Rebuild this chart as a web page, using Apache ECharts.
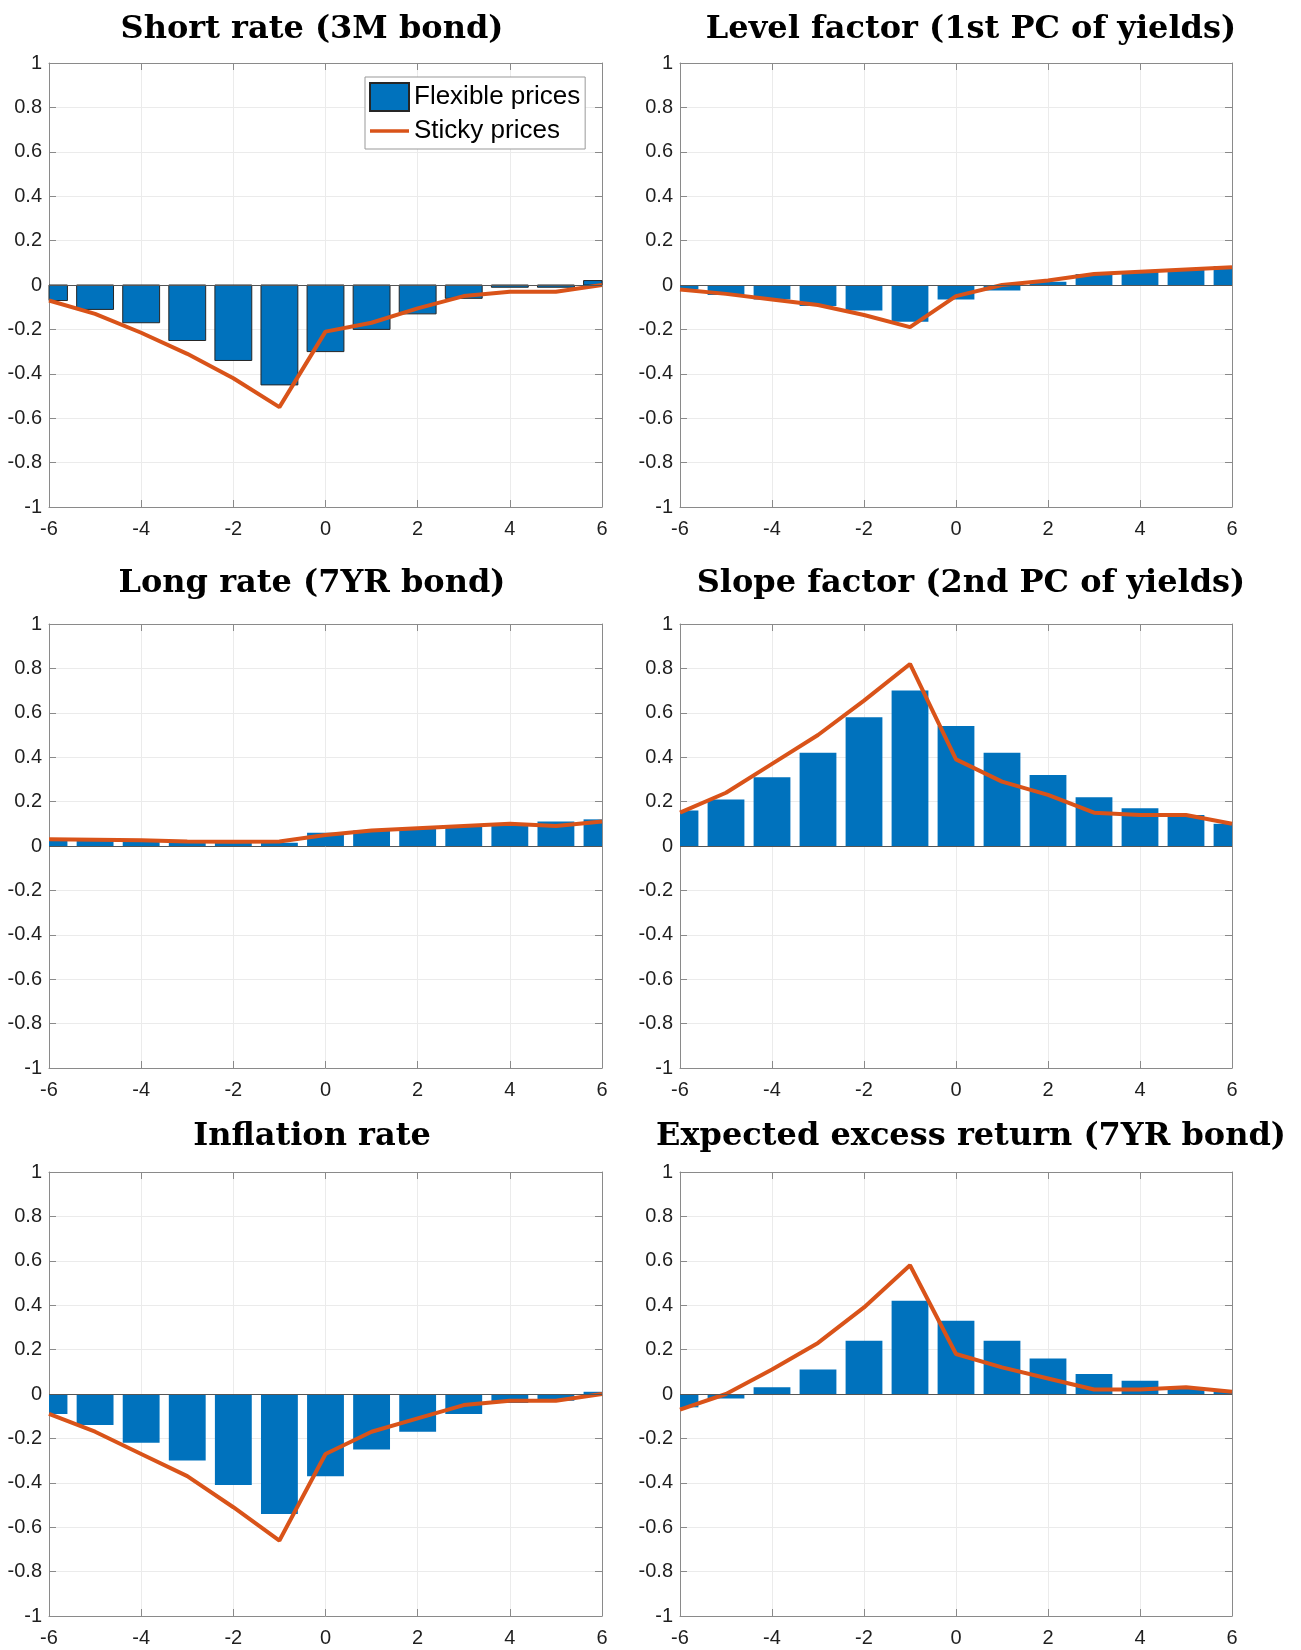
<!DOCTYPE html>
<html>
<head>
<meta charset="utf-8">
<script src="https://cdn.jsdelivr.net/npm/echarts@6/dist/echarts.min.js"></script>
<style>
html, body { margin: 0; padding: 0; background: #fff; }
#main { width: 1301px; height: 1650px; }
</style>
</head>
<body>
<div id="main"></div>
<script>
// horizon (quarters around the shock)
var lags = [-6, -5, -4, -3, -2, -1, 0, 1, 2, 3, 4, 5, 6];

var titles = [
  'Short rate (3M bond)',
  'Level factor (1st PC of yields)',
  'Long rate (7YR bond)',
  'Slope factor (2nd PC of yields)',
  'Inflation rate',
  'Expected excess return (7YR bond)'
];

// flexible prices = bars, sticky prices = line
var shortFlex    = [-0.07, -0.11, -0.17, -0.25, -0.34, -0.45, -0.30, -0.20, -0.13, -0.06, -0.01, -0.01, 0.02];
var shortSticky  = [-0.07, -0.13, -0.215, -0.31, -0.42, -0.55, -0.21, -0.17, -0.105, -0.05, -0.03, -0.03, 0.0];
var levelFlex    = [-0.02, -0.045, -0.065, -0.095, -0.115, -0.165, -0.065, -0.025, 0.015, 0.05, 0.06, 0.07, 0.085];
var levelSticky  = [-0.02, -0.04, -0.065, -0.09, -0.135, -0.19, -0.05, 0.0, 0.02, 0.05, 0.06, 0.07, 0.08];
var longFlex     = [0.025, 0.025, 0.02, 0.015, 0.015, 0.015, 0.06, 0.07, 0.08, 0.09, 0.10, 0.11, 0.12];
var longSticky   = [0.03, 0.028, 0.026, 0.02, 0.019, 0.02, 0.05, 0.07, 0.08, 0.09, 0.10, 0.09, 0.11];
var slopeFlex    = [0.16, 0.21, 0.31, 0.42, 0.58, 0.70, 0.54, 0.42, 0.32, 0.22, 0.17, 0.14, 0.10];
var slopeSticky  = [0.15, 0.24, 0.37, 0.50, 0.655, 0.82, 0.39, 0.29, 0.23, 0.15, 0.14, 0.14, 0.10];
var inflFlex     = [-0.09, -0.14, -0.22, -0.30, -0.41, -0.54, -0.37, -0.25, -0.17, -0.09, -0.04, -0.03, 0.01];
var inflSticky   = [-0.09, -0.17, -0.27, -0.37, -0.51, -0.66, -0.27, -0.17, -0.11, -0.05, -0.03, -0.03, 0.0];
var excessFlex   = [-0.06, -0.02, 0.03, 0.11, 0.24, 0.42, 0.33, 0.24, 0.16, 0.09, 0.06, 0.03, 0.01];
var excessSticky = [-0.07, 0.0, 0.11, 0.23, 0.39, 0.58, 0.18, 0.12, 0.07, 0.02, 0.02, 0.03, 0.01];

var flexList   = [shortFlex, levelFlex, longFlex, slopeFlex, inflFlex, excessFlex];
var stickyList = [shortSticky, levelSticky, longSticky, slopeSticky, inflSticky, excessSticky];

// 布局
var colLeft = [49, 680];
var colWidth = [553, 552];
var rowTop = [63, 624, 1172];
var plotHeight = 444;
var titleX = [312, 971];
var titleY = [30, 584, 1137];
var barHalf = 0.4; // bar width 0.8 of one step

var axisColor = '#8a8a8a';
var gridColor = '#ebebeb';
var labelFont = { fontFamily: 'Liberation Sans', fontSize: 20, color: '#1f1f1f' };

function renderBar(params, api) {
  var x = api.value(0), y = api.value(1);
  var p0 = api.coord([x - barHalf, 0]);
  var p1 = api.coord([x + barHalf, y]);
  var cs = params.coordSys;
  var shape = echarts.graphic.clipRectByRect({
    x: p0[0],
    y: Math.min(p0[1], p1[1]),
    width: p1[0] - p0[0],
    height: Math.abs(p1[1] - p0[1])
  }, { x: cs.x, y: cs.y, width: cs.width, height: cs.height });
  return shape && { type: 'rect', shape: shape, style: api.style() };
}

var grids = [], xAxes = [], yAxes = [], series = [], titleList = [];

for (var i = 0; i < 6; i++) {
  var c = i % 2, r = Math.floor(i / 2);
  grids.push({ left: colLeft[c], top: rowTop[r], width: colWidth[c], height: plotHeight, show: false });

  titleList.push({
    text: titles[i],
    left: titleX[c],
    top: titleY[r],
    textAlign: 'center',
    textVerticalAlign: 'middle',
    padding: 0,
    textStyle: { fontFamily: 'DejaVu Serif', fontWeight: 'bold', fontSize: 32, color: '#000' }
  });

  // bottom + top x axes
  xAxes.push({
    gridIndex: i, type: 'value', position: 'bottom',
    min: -6, max: 6, interval: 2,
    axisLine: { show: true, onZero: false, lineStyle: { color: axisColor, width: 1 } },
    axisTick: { show: true, inside: true, length: 7, lineStyle: { color: axisColor } },
    axisLabel: Object.assign({ margin: 12 }, labelFont),
    splitLine: { show: true, lineStyle: { color: gridColor, width: 1 } }
  });
  xAxes.push({
    gridIndex: i, type: 'value', position: 'top',
    min: -6, max: 6, interval: 2,
    axisLine: { show: true, onZero: false, lineStyle: { color: axisColor, width: 1 } },
    axisTick: { show: true, inside: true, length: 7, lineStyle: { color: axisColor } },
    axisLabel: { show: false },
    splitLine: { show: false }
  });
  // left + right y axes
  yAxes.push({
    gridIndex: i, type: 'value', position: 'left',
    min: -1, max: 1, interval: 0.2,
    axisLine: { show: true, onZero: false, lineStyle: { color: axisColor, width: 1 } },
    axisTick: { show: true, inside: true, length: 7, lineStyle: { color: axisColor } },
    axisLabel: Object.assign({ margin: 7 }, labelFont),
    splitLine: { show: true, lineStyle: { color: gridColor, width: 1 } }
  });
  yAxes.push({
    gridIndex: i, type: 'value', position: 'right',
    min: -1, max: 1, interval: 0.2,
    axisLine: { show: true, onZero: false, lineStyle: { color: axisColor, width: 1 } },
    axisTick: { show: true, inside: true, length: 7, lineStyle: { color: axisColor } },
    axisLabel: { show: false },
    splitLine: { show: false }
  });

  var flex = flexList[i], sticky = stickyList[i];
  series.push({
    name: 'Flexible prices',
    type: 'custom',
    xAxisIndex: 2 * i, yAxisIndex: 2 * i,
    renderItem: renderBar,
    encode: { x: 0, y: 1 },
    itemStyle: i === 0
      ? { color: '#0072BD', borderColor: '#262626', borderWidth: 1 }
      : { color: '#0072BD' },
    data: lags.map(function (x, j) { return [x, flex[j]]; }),
    markLine: {
      silent: true, symbol: 'none', animation: false,
      label: { show: false },
      lineStyle: { color: '#555', width: 1, type: 'solid' },
      data: [{ yAxis: 0 }]
    },
    z: 2
  });
  series.push({
    name: 'Sticky prices',
    type: 'line',
    xAxisIndex: 2 * i, yAxisIndex: 2 * i,
    symbol: 'none', showSymbol: false,
    lineStyle: { color: '#D95319', width: 4 },
    itemStyle: { color: '#D95319' },
    data: lags.map(function (x, j) { return [x, sticky[j]]; }),
    z: 4
  });
}

var myChart = echarts.init(document.getElementById('main'));
myChart.setOption({
  animation: false,
  backgroundColor: '#fff',
  title: titleList,
  legend: {
    data: [
      { name: 'Flexible prices', icon: 'rect' },
      { name: 'Sticky prices', icon: 'path://M0,0h40v3.6h-40z' }
    ],
    orient: 'vertical',
    left: 365, top: 77,
    padding: [5, 5, 5, 4],
    itemWidth: 39, itemHeight: 28, itemGap: 6, itemTextGap: 3,
    borderColor: '#999', borderWidth: 1, backgroundColor: '#fff',
    selectedMode: false,
    textStyle: { fontFamily: 'Liberation Sans', fontSize: 26, color: '#000' }
  },
  grid: grids,
  xAxis: xAxes,
  yAxis: yAxes,
  series: series
});
</script>
</body>
</html>
